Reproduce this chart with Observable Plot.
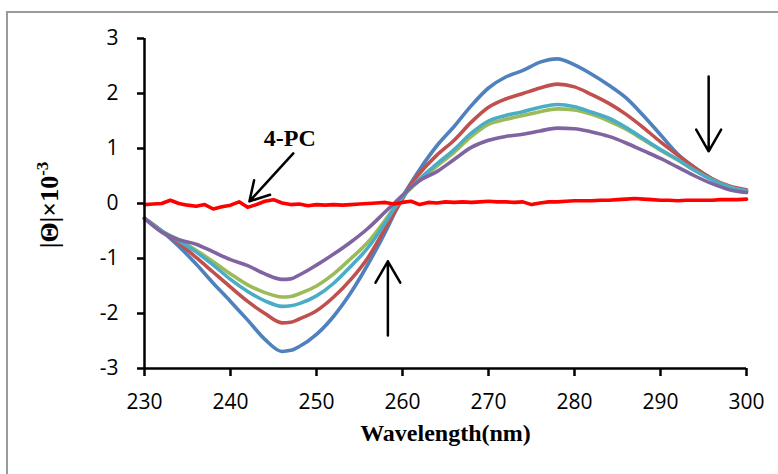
<!DOCTYPE html>
<html><head><meta charset="utf-8">
<script src="https://cdn.jsdelivr.net/npm/d3@7"></script>
<script src="https://cdn.jsdelivr.net/npm/@observablehq/plot@0.6"></script>
<style>
body{margin:0;background:#fff;}
#wrap{position:relative;width:778px;height:474px;overflow:hidden;background:#fff;}
#frame{position:absolute;left:6px;top:11px;width:800px;height:500px;border-left:2px solid #9a9a9a;border-top:2px solid #9a9a9a;}
#chart{position:absolute;left:0;top:0;}
#ylab{position:absolute;left:50px;top:205px;transform:translate(-50%,-50%) rotate(-90deg);white-space:nowrap;font:bold 26px "Liberation Serif",serif;color:#000;}
#ylab sup{font-size:17px;vertical-align:0;position:relative;top:-10px;}
</style></head>
<body>
<div id="wrap"><div id="frame"></div><div id="chart"></div><div id="ylab">|Θ|×10<sup>-3</sup></div></div>
<script>
// wavelength grid (nm)
const wavelength = [230,232,234,236,238,240,242,244,246,247,248,250,252,254,256,258,259,260,261,262,264,266,268,270,272,274,276,278,280,282,284,286,288,290,292,294,296,298,300];
const seriesNames = ["s1","s2","s3","s4","s5"];
const seriesColors = ["#4F81BD","#C0504D","#9BBB59","#4BACC6","#8064A2"];
const s1 = [-0.27,-0.5,-0.78,-1.1,-1.45,-1.78,-2.12,-2.47,-2.69,-2.67,-2.6,-2.38,-2.05,-1.62,-1.1,-0.52,-0.2,0.12,0.38,0.62,1.05,1.4,1.78,2.1,2.3,2.42,2.57,2.63,2.52,2.35,2.15,1.92,1.6,1.25,0.9,0.65,0.45,0.3,0.22];
const s2 = [-0.27,-0.5,-0.72,-0.98,-1.25,-1.52,-1.78,-2.0,-2.17,-2.16,-2.1,-1.95,-1.7,-1.38,-0.98,-0.45,-0.18,0.08,0.35,0.55,0.88,1.15,1.48,1.75,1.9,2.0,2.1,2.17,2.12,1.98,1.82,1.62,1.38,1.12,0.88,0.65,0.45,0.32,0.25];
const s3 = [-0.27,-0.5,-0.66,-0.85,-1.06,-1.28,-1.48,-1.62,-1.7,-1.69,-1.64,-1.5,-1.28,-1.0,-0.7,-0.3,-0.08,0.12,0.28,0.42,0.68,0.93,1.22,1.44,1.53,1.6,1.67,1.72,1.7,1.62,1.5,1.35,1.16,0.97,0.79,0.6,0.43,0.3,0.22];
const s4 = [-0.27,-0.5,-0.68,-0.88,-1.12,-1.38,-1.6,-1.77,-1.87,-1.86,-1.82,-1.68,-1.45,-1.14,-0.8,-0.35,-0.1,0.12,0.3,0.45,0.72,0.98,1.28,1.5,1.6,1.67,1.75,1.8,1.76,1.66,1.55,1.38,1.18,0.98,0.8,0.6,0.43,0.3,0.23];
const s5 = [-0.27,-0.52,-0.66,-0.74,-0.88,-1.02,-1.13,-1.28,-1.38,-1.37,-1.3,-1.12,-0.92,-0.7,-0.45,-0.15,0.0,0.15,0.3,0.42,0.58,0.8,1.02,1.15,1.22,1.26,1.32,1.37,1.36,1.3,1.22,1.1,0.96,0.82,0.66,0.5,0.36,0.25,0.2];
// 4-PC alone
const pcWavelength = [230,231,232,233,234,235,236,237,238,239,240,241,242,243,244,245,246,247,248,249,250,251,252,253,254,255,256,257,258,259,260,261,262,263,264,265,266,267,268,269,270,271,272,273,274,275,276,277,278,279,280,281,282,283,284,285,286,287,288,289,290,291,292,293,294,295,296,297,298,299,300];
const pcValues = [-0.02,-0.01,0.0,0.06,0.0,-0.03,-0.05,-0.02,-0.1,-0.06,-0.03,0.03,-0.07,-0.02,0.04,0.07,0.01,-0.02,-0.01,-0.04,-0.02,-0.03,-0.02,-0.03,-0.02,-0.01,0.0,0.01,0.02,-0.01,0.02,0.04,-0.02,0.02,0.01,0.03,0.02,0.03,0.02,0.03,0.04,0.03,0.03,0.02,0.03,-0.02,0.01,0.03,0.03,0.04,0.05,0.05,0.05,0.06,0.06,0.07,0.08,0.09,0.08,0.07,0.06,0.06,0.05,0.06,0.06,0.06,0.06,0.07,0.07,0.07,0.08];
const xTicks = [230,240,250,260,270,280,290,300];
const yTicks = [-3,-2,-1,0,1,2,3];
// annotation arrows (data units)
const arrowX1 = [247.3,295.6,258.3];
const arrowY1 = [0.91,2.31,-2.4];
const arrowX2 = [242.2,295.6,258.3];
const arrowY2 = [0.04,0.95,-1.05];
const labelText = ["4-PC"];
const labelX = [246.9];
const labelY = [1.18];

const allSeries = [s1,s2,s3,s4,s5];
const rows = [];
seriesNames.forEach((n,i)=>wavelength.forEach((w,j)=>rows.push({series:n,wl:w,v:allSeries[i][j]})));
const pcRows = pcWavelength.map((w,j)=>({wl:w,v:pcValues[j]}));
const arrows = arrowX1.map((x,i)=>({x1:x,y1:arrowY1[i],x2:arrowX2[i],y2:arrowY2[i]}));
const labels = labelText.map((t,i)=>({t,x:labelX[i],y:labelY[i]}));

const tickFont = "'Open Sans', sans-serif";
const serif = "'Liberation Serif', serif";
const chart = Plot.plot({
  width: 778, height: 474,
  marginLeft: 144, marginRight: 32, marginTop: 38, marginBottom: 106,
  x: {domain: [230,300]},
  y: {domain: [-3,3]},
  color: {domain: seriesNames, range: seriesColors},
  style: {fontFamily: tickFont, fontSize: "21px", color: "#000", background: "transparent", overflow: "visible"},
  marks: [
    Plot.axisX({ticks: xTicks, tickSize: 8, tickPadding: 18, strokeWidth: 2.5, label: null, tickFormat: d => String(d), fontSize: 21}),
    Plot.axisY({ticks: yTicks, tickSize: 7, tickPadding: 19, strokeWidth: 2.5, label: null, tickFormat: d => String(d), fontSize: 21}),
    Plot.line(rows, {x: "wl", y: "v", z: "series", stroke: "series", strokeWidth: 3.6, curve: "monotone-x"}),
    Plot.line(pcRows, {x: "wl", y: "v", stroke: "#ff0000", strokeWidth: 3.6}),
    Plot.ruleX([230], {strokeWidth: 2.5, stroke: "#000"}),
    Plot.ruleY([-3], {strokeWidth: 2.5, stroke: "#000"}),
    Plot.arrow(arrows, {x1: "x1", y1: "y1", x2: "x2", y2: "y2", stroke: "#000", strokeWidth: 2.5, headLength: 18, headAngle: 60}),
    Plot.text(labels, {x: "x", y: "y", text: "t", fontFamily: serif, fontWeight: "bold", fontSize: 24, fill: "#000"}),
    Plot.text(["Wavelength(nm)"], {frameAnchor: "bottom", dy: 72, fontFamily: serif, fontWeight: "bold", fontSize: 24, fill: "#000"})
  ]
});
document.getElementById("chart").appendChild(chart);
</script>
</body></html>
